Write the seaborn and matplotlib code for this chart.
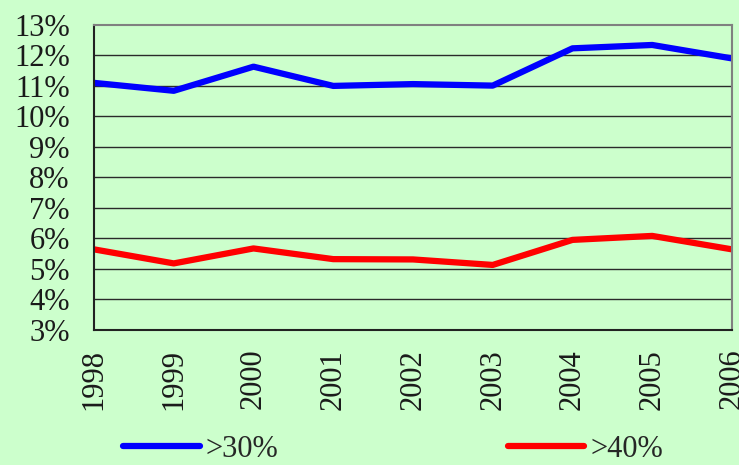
import numpy as np
import pandas as pd
import seaborn as sns
import matplotlib.pyplot as plt

YEARS = [1998, 1999, 2000, 2001, 2002, 2003, 2004, 2005, 2006]
OVER_30 = [11.09, 10.83, 11.62, 10.99, 11.05, 11.00, 12.22, 12.33, 11.89]
OVER_40 = [5.64, 5.18, 5.67, 5.32, 5.31, 5.13, 5.95, 6.08, 5.64]
SERIES = ['>30%', '>40%']
Y_TICKS = list(range(3, 14))

BG = '#ccffcc'

sns.set_theme(style="white")
plt.rcParams['font.family'] = ['Liberation Serif', 'DejaVu Serif']

df = pd.DataFrame({
    'year': YEARS * 2,
    'value': OVER_30 + OVER_40,
    'series': [SERIES[0]] * len(YEARS) + [SERIES[1]] * len(YEARS),
})

fig = plt.figure(figsize=(7.39, 4.65), dpi=100, facecolor=BG)
ax = fig.add_axes([0.1272, 0.2903, 0.8633, 0.657])
ax.set_facecolor(BG)

sns.lineplot(data=df, x='year', y='value', hue='series',
             palette={'>30%': '#0000ff', '>40%': '#ff0000'},
             linewidth=4.5, ax=ax, legend=False)

ax.set_xlim(YEARS[0], YEARS[-1])
ax.set_ylim(Y_TICKS[0], Y_TICKS[-1])
ax.set_xticks(YEARS)
ax.set_xticklabels([str(y) for y in YEARS], rotation=90)
ax.set_yticks(Y_TICKS)
ax.set_yticklabels([f'{v}%' for v in Y_TICKS])
ax.set_xlabel('')
ax.set_ylabel('')

# horizontal gridlines (drawn by hand so they sit below the lines)
for v in Y_TICKS[1:-1]:
    ax.axhline(v, color='#2a2a2a', linewidth=1.0, zorder=0.5)

ax.spines['left'].set_color('#222222')
ax.spines['bottom'].set_color('#222222')
ax.spines['left'].set_linewidth(1.5)
ax.spines['bottom'].set_linewidth(1.5)
ax.spines['top'].set_color('#808080')
ax.spines['right'].set_color('#808080')
ax.spines['top'].set_linewidth(1.5)
ax.spines['right'].set_linewidth(1.5)

ax.tick_params(axis='both', direction='inout', length=13, width=1.2,
               color='#222222', labelsize=22, labelcolor='#1a1a1a')
ax.tick_params(axis='y', pad=11)
ax.tick_params(axis='x', pad=7)

handles = [plt.Line2D([], [], color='#0000ff', linewidth=4.5),
           plt.Line2D([], [], color='#ff0000', linewidth=4.5)]
fig.legend(handles, SERIES, loc='center', bbox_to_anchor=(393 / 739, 1 - 449 / 465),
           ncol=2, frameon=False, fontsize=22, handlelength=2.5,
           handletextpad=0.2, columnspacing=7.5)

fig.savefig('out.png', dpi=100, facecolor=BG)
